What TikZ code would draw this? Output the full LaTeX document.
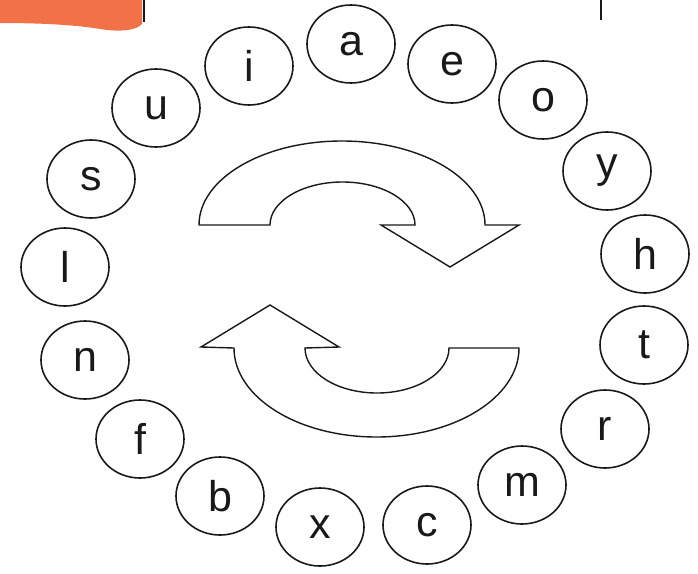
\documentclass[tikz,border=0pt]{standalone}
\usepackage{fontspec}
\setmainfont{Liberation Sans}
\usepackage{tikz}
\usetikzlibrary{shapes.geometric}
\definecolor{tabC}{RGB}{241,114,72}
\definecolor{inkC}{RGB}{25,25,25}

\begin{document}
\begin{tikzpicture}[x=1pt,y=1pt,
  letter/.style={ellipse, draw=inkC, line width=1.6pt, minimum width=88pt,
    minimum height=78pt, inner sep=0pt, text=inkC,
    font=\fontsize{43}{43}\selectfont},
  turn/.style={draw=inkC, line width=1.4pt, fill=white, line join=miter}]
\useasboundingbox (0,0) rectangle (698,-573);
% Tab and cut marks at the top
\fill[tabC] (0,0) -- (142,0) -- (142,-24)
  .. controls (136,-31) and (118,-32) .. (100,-29)
  .. controls (70,-24) and (30,-23) .. (0,-23) -- cycle;
\draw[inkC, line width=2pt] (144,0) -- (144,-22);
\draw[inkC, line width=2pt] (601,0) -- (601,-20);
% Ring of letters
\foreach \name/\px/\py in {a/351/44, e/452/64, o/543/100, y/607/171,
    h/645/254, t/644/345, r/605/429, m/522/485, c/427/525, x/320/527,
    b/220/496, f/140/439, n/85/360, l/65/267, s/91/179, u/156/108, i/249/66}
  \node[letter] (\name) at (\px,-\py) {\name};
% Upper turning arrow
\draw[turn] (199,-225) arc[start angle=180, end angle=0, x radius=143, y radius=84]
  -- (519,-225) -- (450,-267) -- (381,-225) -- (415,-225)
  arc[start angle=0, end angle=180, x radius=72.5, y radius=43] -- cycle;
% Lower turning arrow
\draw[turn] (234,-348) arc[start angle=180, end angle=360, x radius=142.5, y radius=89]
  -- (449,-348)
  arc[start angle=0, end angle=-180, x radius=72, y radius=45]
  -- (339,-347) -- (270,-305) -- (201,-347) -- cycle;
\end{tikzpicture}
\end{document}
